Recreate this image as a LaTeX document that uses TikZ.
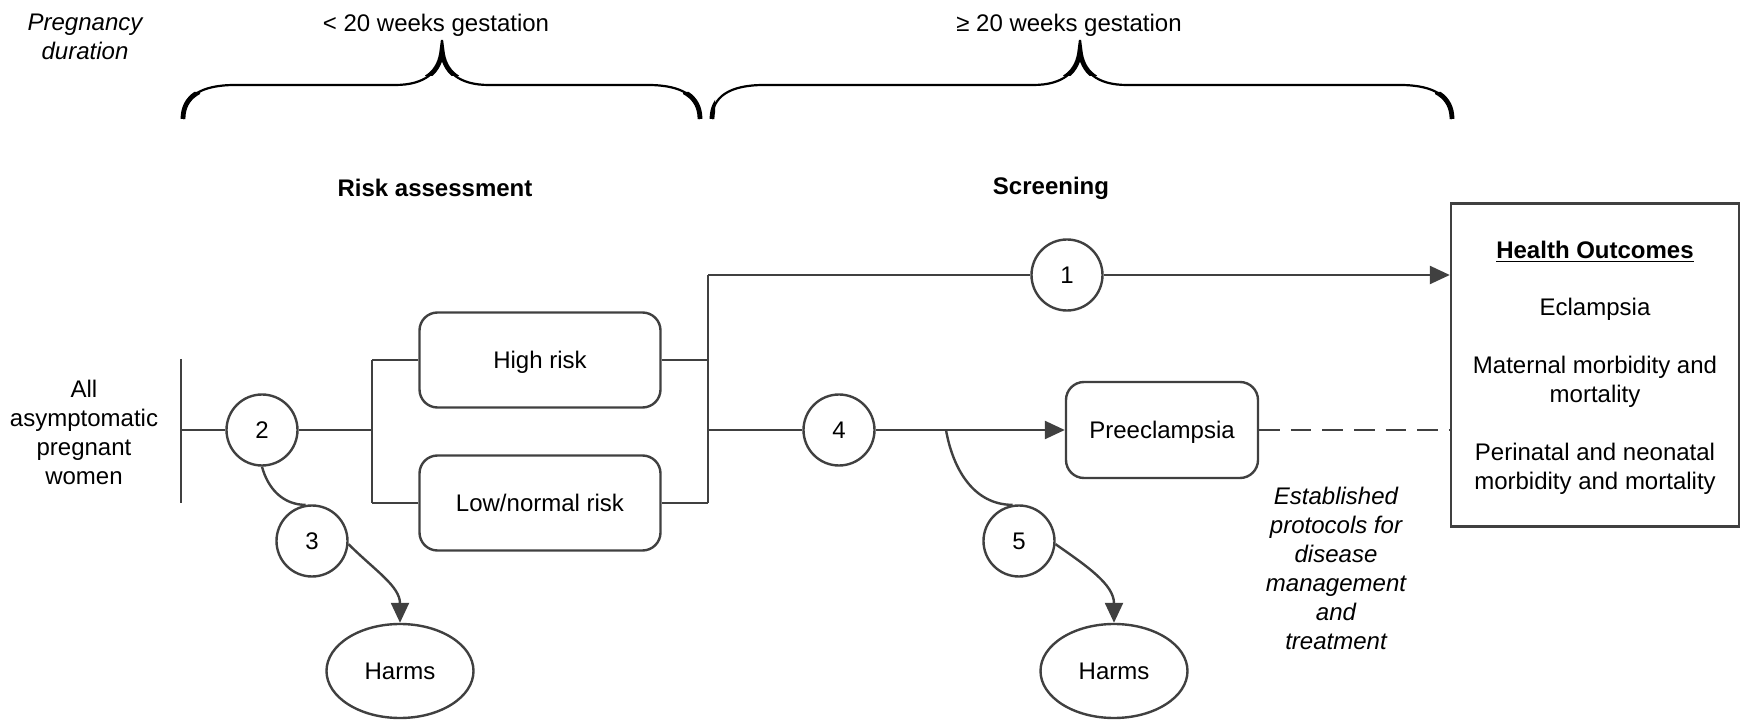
\documentclass[tikz,border=0pt,12pt]{standalone}
\usepackage{fontspec}
\setmainfont{Liberation Sans}
\usetikzlibrary{shapes.geometric,arrows.meta,positioning}
\definecolor{linegray}{HTML}{404040}

\begin{document}
\begin{tikzpicture} [
    x=0.5pt, y=-0.5pt,
    box/.style      = { rectangle, rounded corners=9pt, draw=linegray, line width=1.2pt,
                        text centered, minimum width=120.5pt, minimum height=47.5pt,
                        text height=8.6pt, text depth=0pt },
    num/.style      = { circle, draw=linegray, line width=1.2pt, minimum size=35.5pt,
                        inner sep=0pt, text height=8.6pt, text depth=0pt },
    harm/.style     = { ellipse, draw=linegray, line width=1.2pt, minimum width=73.5pt,
                        minimum height=47pt, text height=8.6pt, text depth=0pt },
    line/.style     = { draw=linegray, line width=1.2pt },
    arrow/.style    = { line, -{Triangle[length=10pt,width=9pt]} },
    brace/.style    = { draw=black, line width=1.1pt },
  ]
  \useasboundingbox (0,0) rectangle (1741,721);

  % braces over the two periods
  \path [brace] (183,119) .. controls (183,97) and (200,85) .. (235,85) -- (395,85)
    .. controls (425,85) and (440,72) .. (442,50) .. controls (444,72) and (459,85) .. (489,85)
    -- (648,85) .. controls (683,85) and (700,97) .. (700,119);
  \path [brace] (712,119) .. controls (712,97) and (729,85) .. (764,85) -- (1033,85)
    .. controls (1063,85) and (1078,72) .. (1080,50) .. controls (1082,72) and (1097,85) .. (1127,85)
    -- (1400,85) .. controls (1435,85) and (1452,97) .. (1452,119);
  \begin{scope}
    \clip (170,92) rectangle (200,125) (683,92) rectangle (715,125) (1435,92) rectangle (1465,125)
          (425,40) rectangle (459,76) (1063,40) rectangle (1097,76);
    \path [brace, line width=2.4pt] (183,119) .. controls (183,97) and (200,85) .. (235,85) -- (395,85)
      .. controls (425,85) and (440,72) .. (442,50) .. controls (444,72) and (459,85) .. (489,85)
      -- (648,85) .. controls (683,85) and (700,97) .. (700,119);
    \path [brace, line width=2.4pt] (712,119) .. controls (712,97) and (729,85) .. (764,85) -- (1033,85)
      .. controls (1063,85) and (1078,72) .. (1080,50) .. controls (1082,72) and (1097,85) .. (1127,85)
      -- (1400,85) .. controls (1435,85) and (1452,97) .. (1452,119);
  \end{scope}

  % Define nodes
  \node (dur) at (85,36.5) [align=center, font=\itshape] {Pregnancy\\duration};
  \node (early) at (436,25.5) {< 20 weeks gestation};
  \node (late) at (1069,25.5) {≥ 20 weeks gestation};
  \node (risk) at (435,187.5) [font=\bfseries] {Risk assessment};
  \node (screen) at (1051,188) [font=\bfseries] {Screening};
  \node (women) at (84,432) [align=center] {All\\asymptomatic\\pregnant\\women};
  \node[num] (c2) at (262,430) {2};
  \node[box] (high) at (540,360) {High risk};
  \node[box] (low) at (540,503) {Low/normal risk};
  \node[num] (c3) at (312,541) {3};
  \node[harm] (harmsA) at (400,671) {Harms};
  \node[num] (c1) at (1067,275) {1};
  \node[num] (c4) at (839,430) {4};
  \node[box, minimum width=96pt, minimum height=48pt] (pre) at (1162,430) {Preeclampsia};
  \node[num] (c5) at (1019,541) {5};
  \node[harm] (harmsB) at (1114,671) {Harms};
  \node (protocol) at (1336,568.5) [align=center, font=\itshape]
    {Established\\protocols for\\disease\\management\\and\\treatment};
  \node (outcomes) at (1595,365) [rectangle, draw=linegray, line width=1.2pt,
    minimum width=144pt, minimum height=161.5pt] {};
  \node (outcomesText) at (1595,367.5) [align=center]
    {\underline{\textbf{Health Outcomes}}\\[14.3pt]Eclampsia\\[14.3pt]Maternal morbidity and\\mortality\\[14.3pt]Perinatal and neonatal\\morbidity and mortality};

  \coordinate (barTop) at (181,359);
  \coordinate (barBot) at (181,503);
  \coordinate (barMid) at (181,430);
  \coordinate (split) at (372,430);
  \coordinate (join) at (708,430);
  \coordinate (fork) at (946,430);

  % connect the nodes
  \path [line] (barTop) -- (barBot);
  \path [line] (barMid) -- (c2);
  \path [line] (c2) -- (split);
  \path [line] (split |- high) -- (split |- low);
  \path [line] (split |- high) -- (high);
  \path [line] (split |- low) -- (low);
  \path [line] (high) -- (join |- high);
  \path [line] (low) -- (join |- low);
  \path [line] (join |- c1) -- (join |- low);
  \path [line] (join |- c1) -- (c1);
  \path [arrow] (c1) -- (outcomes.west |- c1);
  \path [line] (join) -- (c4);
  \path [arrow] (c4) -- (pre);
  \path [line, dash pattern=on 10.3pt off 5.5pt] (pre) -- (outcomes.west |- pre);
  \path [line] (c2.south) to[out=-75, in=180] (c3.100);
  \path [arrow] (c3.-5) to[out=-45, in=90] (harmsA.north);
  \path [line] (fork) to[out=-80, in=180] (c5.100);
  \path [arrow] (c5.-5) to[out=-35, in=90] (harmsB.north);
\end{tikzpicture}
\end{document}
